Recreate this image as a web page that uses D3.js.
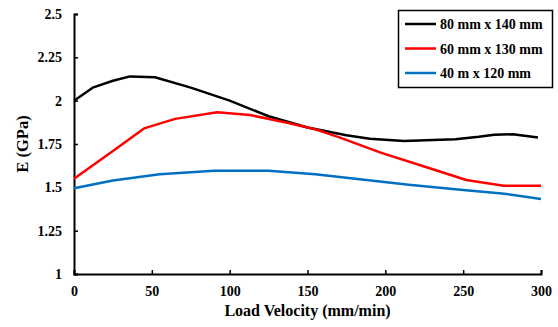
<!DOCTYPE html>
<html>
<head>
<meta charset="utf-8">
<script src="https://cdn.jsdelivr.net/npm/d3@7"></script>
<style>
  body { margin: 0; background: #fff; }
  svg text { font-family: "Liberation Serif", "Times New Roman", serif; font-weight: bold; fill: #000; }
</style>
</head>
<body>
<svg id="chart" width="558" height="327"></svg>
<script>
// values (x = load velocity, y = E in GPa)
const black_x = [0, 12, 25, 36, 52, 75, 100, 125, 150, 175, 190, 212, 245, 260, 270, 282, 298];
const black_y = [2.0, 2.075, 2.115, 2.14, 2.135, 2.075, 2.0, 1.91, 1.845, 1.8, 1.78, 1.767, 1.778, 1.792, 1.804, 1.806, 1.787];
const red_x = [0, 25, 45, 65, 92, 113, 137, 155, 170, 197, 225, 252, 276, 300];
const red_y = [1.55, 1.71, 1.84, 1.895, 1.933, 1.917, 1.873, 1.835, 1.79, 1.70, 1.62, 1.542, 1.509, 1.509];
const blue_x = [0, 25, 55, 90, 125, 155, 185, 215, 250, 275, 300];
const blue_y = [1.495, 1.54, 1.576, 1.595, 1.595, 1.575, 1.545, 1.515, 1.485, 1.465, 1.433];
const series_names = ['80 mm x 140 mm', '60 mm x 130 mm', '40 m x 120 mm'];
const series_colors = ['#000000', '#ff0000', '#0070c0'];
const x_ticks = [0, 50, 100, 150, 200, 250, 300];
const y_ticks = [1, 1.25, 1.5, 1.75, 2, 2.25, 2.5];

const svg = d3.select('#chart');
const plot_left = 74, plot_top = 14, plot_right = 541, plot_bottom = 274;

const x_scale = d3.scaleLinear().domain([0, 300]).range([plot_left, plot_right]);
const y_scale = d3.scaleLinear().domain([1, 2.5]).range([plot_bottom, plot_top]);

// axes with inward ticks
const x_axis = d3.axisBottom(x_scale).tickValues(x_ticks).tickSize(-4).tickPadding(12).tickFormat(d3.format('d'));
const y_axis = d3.axisLeft(y_scale).tickValues(y_ticks).tickSize(-4).tickPadding(12).tickFormat(d => String(d));

const gx = svg.append('g').attr('transform', 'translate(0,' + plot_bottom + ')').call(x_axis);
const gy = svg.append('g').attr('transform', 'translate(' + plot_left + ',0)').call(y_axis);
[gx, gy].forEach(g => {
  g.select('.domain').attr('stroke', '#000').attr('stroke-width', 2);
  g.selectAll('.tick line').attr('stroke', '#000').attr('stroke-width', 1.5);
  g.selectAll('.tick text').style('font-size', '14px').style('font-family', '"Liberation Serif", serif').style('font-weight', 'bold').attr('fill', '#000');
});

svg.append('text')
  .attr('x', (plot_left + plot_right) / 2)
  .attr('y', 316)
  .attr('text-anchor', 'middle')
  .style('font-size', '16px')
  .text('Load Velocity (mm/min)');

svg.append('text')
  .attr('transform', 'translate(28,' + (plot_top + plot_bottom) / 2 + ') rotate(-90)')
  .attr('text-anchor', 'middle')
  .style('font-size', '16.5px')
  .text('E (GPa)');

const line = d3.line()
  .x(d => x_scale(d[0]))
  .y(d => y_scale(d[1]));

const all_series = [
  d3.zip(black_x, black_y),
  d3.zip(red_x, red_y),
  d3.zip(blue_x, blue_y)
];

all_series.forEach((s, i) => {
  svg.append('path')
    .datum(s)
    .attr('fill', 'none')
    .attr('stroke', series_colors[i])
    .attr('stroke-width', 2.5)
    .attr('stroke-linejoin', 'round')
    .attr('d', line);
});

// legend
const legend = svg.append('g');
legend.append('rect')
  .attr('x', 398.5).attr('y', 10.5)
  .attr('width', 154).attr('height', 77)
  .attr('fill', '#fff').attr('stroke', '#000').attr('stroke-width', 1.5);
series_names.forEach((name, i) => {
  const ly = 24 + i * 24.5;
  legend.append('line')
    .attr('x1', 405).attr('x2', 436)
    .attr('y1', ly).attr('y2', ly)
    .attr('stroke', series_colors[i]).attr('stroke-width', 2.5);
  legend.append('text')
    .attr('x', 440).attr('y', ly + 5)
    .style('font-size', '14px')
    .text(name);
});
</script>
</body>
</html>
